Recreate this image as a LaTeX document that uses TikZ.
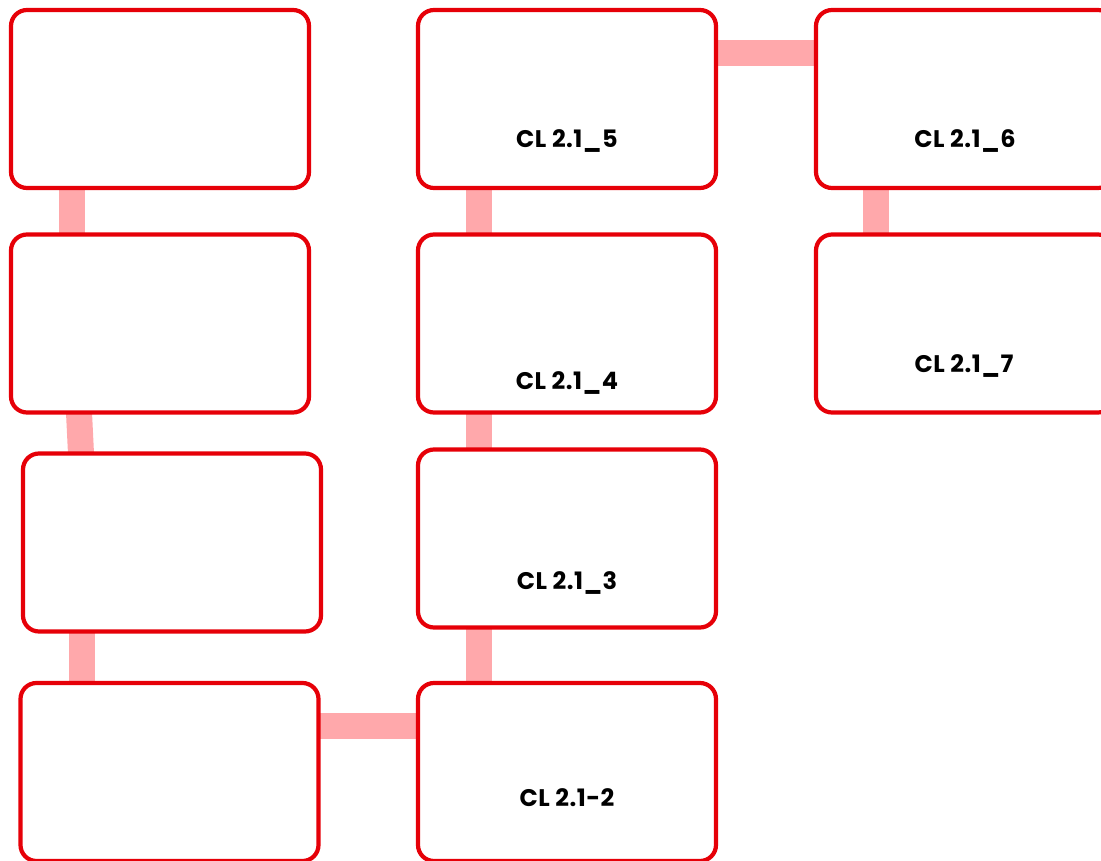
\documentclass[tikz,border=0pt]{standalone}
\usepackage{fontspec}
\setmainfont{Poppins}
\usetikzlibrary{backgrounds}
\definecolor{boxred}{HTML}{E60008}
\definecolor{linkpink}{HTML}{FFA8AB}
\tikzset{
  cbox/.style={draw=boxred, line width=4.2pt, rounded corners=16pt, fill=white,
    minimum width=298pt, minimum height=178pt, inner sep=0pt, outer sep=0pt},
  lbl/.style={font=\fontsize{24}{28}\selectfont\addfontfeature{LetterSpace=2}\bfseries, text=black, inner sep=0pt},
  link/.style={draw=linkpink, line width=26pt}
}
\begin{document}
\begin{tikzpicture}[x=1pt,y=-1pt]
\useasboundingbox (0,0) rectangle (1101,861);
% column A
\node[cbox] (A1) at (160,99) {};
\node[cbox] (A2) at (160,323.5) {};
\node[cbox] (A3) at (172,542.5) {};
\node[cbox] (A4) at (169.5,772) {};
% column B
\node[cbox] (B5) at (567,99) {};
\node[cbox] (B4) at (567,323.5) {};
\node[cbox] (B3) at (567,538.5) {};
\node[cbox] (B2) at (567,772) {};
% column C
\node[cbox] (C6) at (965,99) {};
\node[cbox] (C7) at (965,323.5) {};
% labels
\node[lbl] (t5) at (567,141) {CL 2.1\_5};
\node[lbl] (t4) at (567,383) {CL 2.1\_4};
\node[lbl] (t3) at (567,583) {CL 2.1\_3};
\node[lbl] (t2) at (567,798) {CL 2.1-2};
\node[lbl] (t6) at (965,141) {CL 2.1\_6};
\node[lbl] (t7) at (964,366) {CL 2.1\_7};
\begin{pgfonlayer}{background}
\draw[link] ([xshift=-88.5pt]A1.south) -- ([xshift=-88.5pt]A2.north);
\draw[link] ([xshift=-81pt]A2.south) -- ([xshift=-91pt]A3.north);
\draw[link] ([xshift=-90.5pt]A3.south) -- ([xshift=-88pt]A4.north);
\draw[link] ([yshift=46pt]A4.east) -- ([yshift=46pt]B2.west);
\draw[link] ([xshift=-88.5pt]B2.north) -- ([xshift=-88.5pt]B3.south);
\draw[link] ([xshift=-88.5pt]B3.north) -- ([xshift=-88.5pt]B4.south);
\draw[link] ([xshift=-88.5pt]B4.north) -- ([xshift=-88.5pt]B5.south);
\draw[link] ([yshift=46pt]B5.east) -- ([yshift=46pt]C6.west);
\draw[link] ([xshift=-89.5pt]C6.south) -- ([xshift=-89.5pt]C7.north);
\end{pgfonlayer}
\end{tikzpicture}
\end{document}
